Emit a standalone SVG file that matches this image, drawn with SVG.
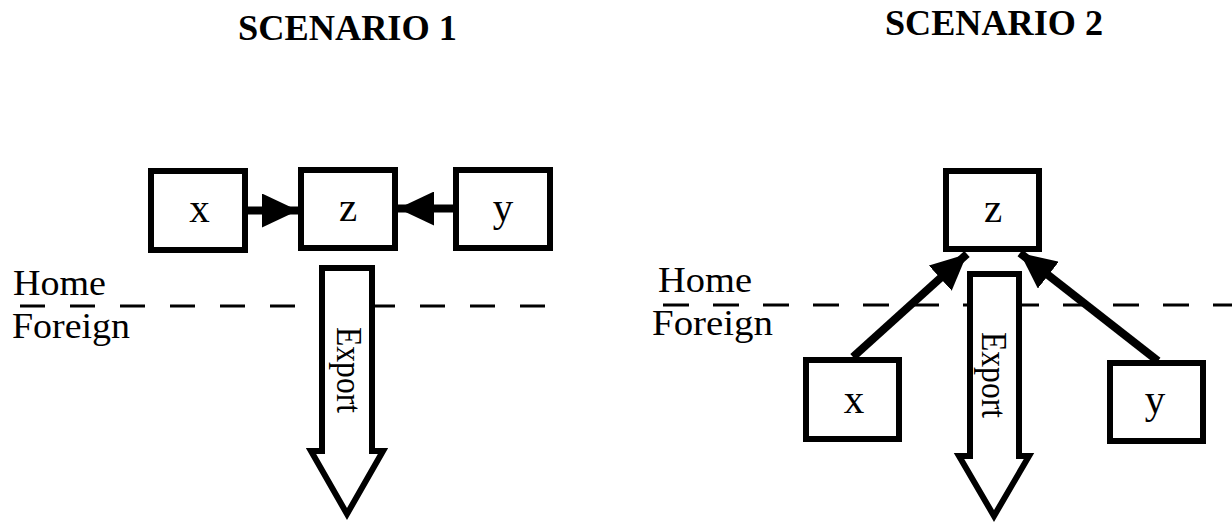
<svg xmlns="http://www.w3.org/2000/svg" width="1232" height="523" viewBox="0 0 1232 523">
  <style>
    .box { fill: #ffffff; stroke: #000000; stroke-width: 6; }
    .lbl { font-family: "Liberation Serif", "Times New Roman", serif; font-size: 41px; fill: #000000; text-anchor: middle; }
    .side { font-family: "Liberation Serif", "Times New Roman", serif; font-size: 36px; fill: #000000; }
    .title { font-family: "Liberation Serif", "Times New Roman", serif; font-size: 35px; font-weight: bold; fill: #000000; }
    .dash { stroke: #000000; stroke-width: 3; fill: none; }
    .conn { stroke: #000000; stroke-width: 8; fill: none; marker-end: url(#head); }
    .export { fill: #ffffff; stroke: #000000; stroke-width: 6; stroke-linejoin: miter; stroke-miterlimit: 10; }
    .exptxt { font-family: "Liberation Serif", "Times New Roman", serif; font-size: 33px; fill: #000000; }
  </style>
  <defs>
    <marker id="head" markerUnits="userSpaceOnUse" markerWidth="36" markerHeight="34" refX="36" refY="17" orient="auto" viewBox="0 0 36 34">
      <path d="M0,0 L36,17 L0,34 Z" fill="#000000"/>
    </marker>
  </defs>
  <rect width="1232" height="523" fill="#ffffff"/>

  <g id="titles">
    <text class="title" x="238" y="40" textLength="219" lengthAdjust="spacingAndGlyphs">SCENARIO 1</text>
    <text class="title" x="885" y="35" textLength="218" lengthAdjust="spacingAndGlyphs">SCENARIO 2</text>
  </g>

  <g id="borders">
    <line class="dash" x1="20" y1="306" x2="546" y2="306" stroke-dasharray="25 25"/>
    <line class="dash" x1="663" y1="305" x2="1232" y2="305" stroke-dasharray="26 24"/>
    <text class="side" x="13" y="295" textLength="93" lengthAdjust="spacingAndGlyphs">Home</text>
    <text class="side" x="12" y="338" textLength="118" lengthAdjust="spacingAndGlyphs">Foreign</text>
    <text class="side" x="658" y="292" textLength="94" lengthAdjust="spacingAndGlyphs">Home</text>
    <text class="side" x="652" y="335" textLength="121" lengthAdjust="spacingAndGlyphs">Foreign</text>
  </g>

  <g id="connectors">
    <line class="conn" x1="248" y1="210.5" x2="298" y2="210.5"/>
    <line class="conn" x1="453" y1="208.5" x2="398" y2="208.5"/>
    <line class="conn" x1="853" y1="357" x2="967" y2="254"/>
    <line class="conn" x1="1158" y1="361" x2="1020" y2="253"/>
  </g>

  <g id="s1-x">
    <rect class="box" x="151" y="171" width="94" height="79"/>
    <text class="lbl" x="199.5" y="222">x</text>
  </g>
  <g id="s1-z">
    <rect class="box" x="301" y="170" width="94" height="78"/>
    <text class="lbl" x="348" y="221">z</text>
  </g>
  <g id="s1-y">
    <rect class="box" x="456" y="170" width="94" height="78"/>
    <text class="lbl" x="503" y="221">y</text>
  </g>
  <g id="s1-export">
    <path class="export" d="M322,268 L372,268 L372,451 L383,451 L347,514 L311,451 L322,451 Z"/>
    <text class="exptxt" transform="translate(337,327) scale(1.1,1) rotate(90)" textLength="86" lengthAdjust="spacingAndGlyphs">Export</text>
  </g>

  <g id="s2-z">
    <rect class="box" x="946" y="171" width="93" height="78"/>
    <text class="lbl" x="993" y="222">z</text>
  </g>
  <g id="s2-x">
    <rect class="box" x="806" y="360" width="93" height="79"/>
    <text class="lbl" x="854" y="413">x</text>
  </g>
  <g id="s2-y">
    <rect class="box" x="1110" y="363" width="93" height="78"/>
    <text class="lbl" x="1155" y="413">y</text>
  </g>
  <g id="s2-export">
    <path class="export" d="M970,274 L1019,274 L1019,456 L1029,456 L994,516 L959,456 L970,456 Z"/>
    <text class="exptxt" transform="translate(982,332) scale(1.1,1) rotate(90)" textLength="86" lengthAdjust="spacingAndGlyphs">Export</text>
  </g>
</svg>
